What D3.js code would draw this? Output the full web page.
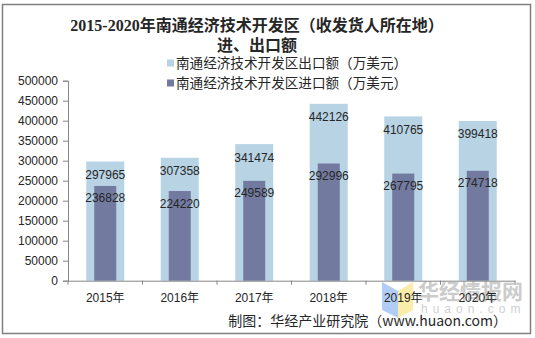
<!DOCTYPE html>
<html><head><meta charset="utf-8">
<script src="https://cdn.jsdelivr.net/npm/d3@7"></script>
<style>
body{margin:0;background:#fff;}
svg{display:block;}
</style></head>
<body><svg id="c" width="535" height="338"></svg>
<script>
const years = ["2015年","2016年","2017年","2018年","2019年","2020年"];
const exportVals = [297965,307358,341474,442126,410765,399418];
const importVals = [236828,224220,249589,292996,267795,274718];
const yTicks = [0,50000,100000,150000,200000,250000,300000,350000,400000,450000,500000];
const seriesNames = ["南通经济技术开发区出口额（万美元）","南通经济技术开发区进口额（万美元）"];
const titleLines = ["2015-2020年南通经济技术开发区（收发货人所在地）","进、出口额"];
const sourceText = "制图：华经产业研究院（www.huaon.com）";

const colLight = "#b7d3e4", colDark = "#737aa0";
const svg = d3.select("#c");
const fontNum = "'Liberation Sans', Arial, 'Noto Sans CJK SC', sans-serif";

svg.append("rect").attr("x",2.5).attr("y",4.5).attr("width",528).attr("height",329)
  .attr("fill","#fff").attr("stroke","#7f7f7f").attr("stroke-width",1.5);

const x = d3.scaleBand().domain(years).range([68,515]);
const y = d3.scaleLinear().domain([0,500000]).range([280.7,80.7]);

// title
svg.selectAll("text.title").data(titleLines).enter().append("text")
  .attr("x",257).attr("y",(d,i)=>31+i*20).attr("text-anchor","middle")
  .attr("font-family","'Liberation Serif','Times New Roman','Noto Sans CJK SC',serif")
  .attr("font-weight","bold").attr("font-size",16).attr("fill","#262626").text(d=>d);

// legend
const lg = svg.selectAll("g.lg").data(seriesNames).enter().append("g")
  .attr("transform",(d,i)=>`translate(167,${63+i*20})`);
lg.append("rect").attr("x",0).attr("y",-3.5).attr("width",7).attr("height",7)
  .attr("fill",(d,i)=>i?colDark:colLight);
lg.append("text").attr("x",9).attr("y",5).attr("font-size",13.6)
  .attr("font-family","'Noto Sans CJK SC',sans-serif").attr("fill","#262626").text(d=>d);

// y axis
const yAxis = d3.axisLeft(y).tickValues(yTicks).tickSize(5).tickFormat(d3.format("d"));
const ga = svg.append("g").attr("transform","translate(68,0)").call(yAxis);
ga.select(".domain").attr("stroke","#868686");
ga.selectAll(".tick line").attr("stroke","#868686");
ga.selectAll(".tick text").attr("font-family",fontNum).attr("font-size",12).attr("fill","#262626").attr("x",-10);

// bars
const lw = 38, dw = 22;
svg.selectAll("rect.exp").data(exportVals).enter().append("rect")
  .attr("x",(d,i)=>x(years[i])+x.bandwidth()/2-lw/2).attr("width",lw)
  .attr("y",d=>y(d)).attr("height",d=>y(0)-y(d)).attr("fill",colLight);
svg.selectAll("rect.imp").data(importVals).enter().append("rect")
  .attr("x",(d,i)=>x(years[i])+x.bandwidth()/2-dw/2).attr("width",dw)
  .attr("y",d=>y(d)).attr("height",d=>y(0)-y(d)).attr("fill",colDark);

// x axis
const xAxis = d3.axisBottom(x).tickSize(0).tickFormat(d=>d);
const gx = svg.append("g").attr("transform",`translate(0,${y(0)})`).call(xAxis);
gx.select(".domain").attr("stroke","#868686");
gx.selectAll(".tick text").attr("font-family",fontNum).attr("font-size",12).attr("fill","#262626").attr("dy","0").attr("y",21);
svg.selectAll("line.xt").data(d3.range(years.length+1)).enter().append("line")
  .attr("x1",i=>68+i*x.step()).attr("x2",i=>68+i*x.step())
  .attr("y1",y(0)).attr("y2",y(0)+4).attr("stroke","#868686");

// watermark
const wm = svg.append("g");
wm.append("path").attr("d","M382,282 L398,291 L398,318 L382,310 Z").attr("fill","#a9c8f5").attr("opacity",0.9);
wm.append("path").attr("d","M398,291 L413,282 L413,310 L398,318 Z").attr("fill","#f9eaa0").attr("opacity",0.9);
wm.append("text").attr("x",418).attr("y",299).attr("font-size",21).attr("font-weight","bold")
  .attr("font-family","'Noto Sans CJK SC',sans-serif").attr("fill","#c4c4c4").attr("opacity",0.85).text("华经情报网");
wm.append("text").attr("x",421).attr("y",313).attr("font-size",12).attr("letter-spacing",5)
  .attr("font-family",fontNum).attr("fill","#d0d0d0").text("huaon.com");

gx.raise();

// value labels
svg.selectAll("text.ev").data(exportVals).enter().append("text")
  .attr("x",(d,i)=>x(years[i])+x.bandwidth()/2).attr("y",d=>y(d)+17.5)
  .attr("text-anchor","middle").attr("font-family",fontNum).attr("font-size",12).attr("fill","#262626").text(d=>d);
svg.selectAll("text.iv").data(importVals).enter().append("text")
  .attr("x",(d,i)=>x(years[i])+x.bandwidth()/2).attr("y",d=>y(d)+16.5)
  .attr("text-anchor","middle").attr("font-family",fontNum).attr("font-size",12).attr("fill","#262626").text(d=>d);

// source
svg.append("text").attr("x",507).attr("y",326).attr("text-anchor","end").attr("font-size",14)
  .attr("font-family","'Noto Sans CJK SC','Liberation Sans',sans-serif").attr("fill","#262626").text(sourceText);
</script></body></html>
